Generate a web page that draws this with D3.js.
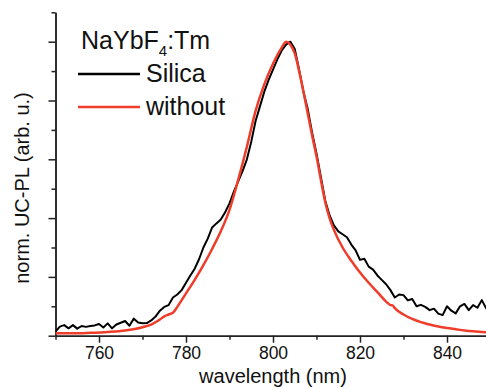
<!DOCTYPE html>
<html>
<head>
<meta charset="utf-8">
<script src="https://cdn.jsdelivr.net/npm/d3@7"></script>
<style>
  body { margin: 0; background: #fff; }
  svg { display: block; font-family: "Liberation Sans", Arial, sans-serif; }
</style>
</head>
<body>
<div id="chart"></div>
<script>
// wavelength grid (nm) for the Silica spectrum, 1 nm steps
var silicaNm = d3.range(750, 851, 1);
var silicaVal = [
  0.014, 0.031, 0.036, 0.025, 0.036, 0.024, 0.033, 0.030, 0.033, 0.035,
  0.040, 0.028, 0.042, 0.025, 0.038, 0.044, 0.050, 0.034, 0.058, 0.045,
  0.042, 0.043, 0.052, 0.065, 0.085, 0.098, 0.104, 0.130, 0.140, 0.155,
  0.180, 0.205, 0.228, 0.260, 0.300, 0.330, 0.368, 0.382, 0.395, 0.420,
  0.450, 0.490, 0.525, 0.560, 0.600, 0.660, 0.730, 0.780, 0.830, 0.870,
  0.905, 0.940, 0.970, 0.990, 1.000, 0.975, 0.905, 0.830, 0.770, 0.690,
  0.620, 0.540, 0.460, 0.410, 0.375, 0.355, 0.345, 0.335, 0.310, 0.290,
  0.258, 0.262, 0.235, 0.225, 0.205, 0.190, 0.175, 0.155, 0.130, 0.140,
  0.138, 0.120, 0.125, 0.100, 0.105, 0.098, 0.087, 0.092, 0.075, 0.070,
  0.100, 0.085, 0.076, 0.100, 0.108, 0.087, 0.104, 0.095, 0.121, 0.093,
  0.100
];

// spectrum without silica shell
var withoutNm = [750, 754, 758, 762, 766, 770, 772, 774, 775, 776, 777, 778,
  780, 782, 784, 786, 788, 790, 792, 794, 796, 798, 800, 802, 803, 804, 805,
  806, 807, 808, 809, 810, 811, 812, 813, 814, 816, 818, 820, 822, 824, 826,
  827, 827.5, 828, 830, 832, 834, 836, 838, 840, 842, 844, 846, 848, 850];
var withoutVal = [0.008, 0.008, 0.010, 0.013, 0.018, 0.029, 0.038, 0.055, 0.066, 0.072, 0.078, 0.098,
  0.144, 0.190, 0.240, 0.295, 0.355, 0.428, 0.530, 0.643, 0.765, 0.855, 0.925, 0.980, 1.000, 0.990, 0.960,
  0.900, 0.830, 0.755, 0.680, 0.610, 0.530, 0.455, 0.400, 0.360, 0.300, 0.255, 0.215, 0.180, 0.148, 0.116,
  0.104, 0.103, 0.094, 0.072, 0.057, 0.046, 0.038, 0.031, 0.026, 0.022, 0.018, 0.015, 0.013, 0.011];

var xMajor = [760, 780, 800, 820, 840];
var xMinor = [750, 770, 790, 810, 830, 850];
var yMajor = [0, 0.2, 0.4, 0.6, 0.8, 1.0];
var yMinor = [0.1, 0.3, 0.5, 0.7, 0.9, 1.1];

var seriesNames = ['Silica', 'without'];
var seriesColors = ['#000000', '#ef3d2b'];

var width = 486, height = 389;

var svg = d3.select('#chart').append('svg')
    .attr('width', width)
    .attr('height', height);

var x = d3.scaleLinear().domain([750, 850]).range([55.5, 490.5]);
var y = d3.scaleLinear().domain([0, 1.1]).range([335.7, 12.3]);

svg.append('clipPath').attr('id', 'plotclip')
  .append('rect')
    .attr('x', x(750)).attr('y', y(1.1))
    .attr('width', x(850) - x(750)).attr('height', y(0) - y(1.1));

// axes
var axisColor = '#222';
var xAxisG = svg.append('g').attr('transform', 'translate(0,' + y(0) + ')');
xAxisG.append('g')
    .call(d3.axisBottom(x).tickValues(xMajor).tickSize(7).tickSizeOuter(0).tickFormat(d3.format('d')));
xAxisG.append('g')
    .call(d3.axisBottom(x).tickValues(xMinor).tickSize(4).tickSizeOuter(0).tickFormat(''));

var yAxisG = svg.append('g').attr('transform', 'translate(' + x(750) + ',0)');
yAxisG.append('g')
    .call(d3.axisLeft(y).tickValues(yMajor).tickSize(7).tickSizeOuter(0).tickFormat(''));
yAxisG.append('g')
    .call(d3.axisLeft(y).tickValues(yMinor).tickSize(4).tickSizeOuter(0).tickFormat(''));

svg.selectAll('.domain, .tick line')
    .attr('stroke', axisColor)
    .attr('stroke-width', 1.5);
xAxisG.selectAll('.tick text')
    .attr('fill', '#111')
    .attr('y', 11)
    .style('font-size', '17.5px')
    .style('font-family', '"Liberation Sans", Arial, sans-serif');

// axis titles
svg.append('text')
    .attr('x', x(800))
    .attr('y', 383)
    .attr('text-anchor', 'middle')
    .attr('fill', '#111')
    .style('font-size', '20px')
    .text('wavelength (nm)');

svg.append('text')
    .attr('transform', 'translate(29,188) rotate(-90)')
    .attr('text-anchor', 'middle')
    .attr('fill', '#111')
    .style('font-size', '20px')
    .text('norm. UC-PL (arb. u.)');

// data lines
var line = d3.line()
    .x(function(d) { return x(d[0]); })
    .y(function(d) { return y(d[1]); });

var plot = svg.append('g').attr('clip-path', 'url(#plotclip)');

var silicaData = silicaNm.map(function(n, i) { return [n, silicaVal[i]]; });
var withoutData = withoutNm.map(function(n, i) { return [n, withoutVal[i]]; });

plot.append('path')
    .datum(silicaData)
    .attr('fill', 'none')
    .attr('stroke', seriesColors[0])
    .attr('stroke-width', 2)
    .attr('stroke-linejoin', 'round')
    .attr('d', line.curve(d3.curveLinear));

plot.append('path')
    .datum(withoutData)
    .attr('fill', 'none')
    .attr('stroke', seriesColors[1])
    .attr('stroke-width', 2.5)
    .attr('stroke-linejoin', 'round')
    .attr('d', line.curve(d3.curveMonotoneX));

// legend
var legend = svg.append('g');
var title = legend.append('text')
    .attr('x', 81)
    .attr('y', 49)
    .attr('fill', '#111')
    .style('font-size', '25px');
title.append('tspan').text('NaYbF');
title.append('tspan').attr('dy', 7).style('font-size', '15px').text('4');
title.append('tspan').attr('dy', -7).text(':Tm');

seriesNames.forEach(function(name, i) {
    var ly = 74 + i * 33;
    legend.append('line')
        .attr('x1', 78).attr('x2', 140)
        .attr('y1', ly).attr('y2', ly)
        .attr('stroke', seriesColors[i])
        .attr('stroke-width', 2.5);
    legend.append('text')
        .attr('x', 146)
        .attr('y', ly + 8)
        .attr('fill', '#111')
        .style('font-size', '25px')
        .text(name);
});
</script>
</body>
</html>
